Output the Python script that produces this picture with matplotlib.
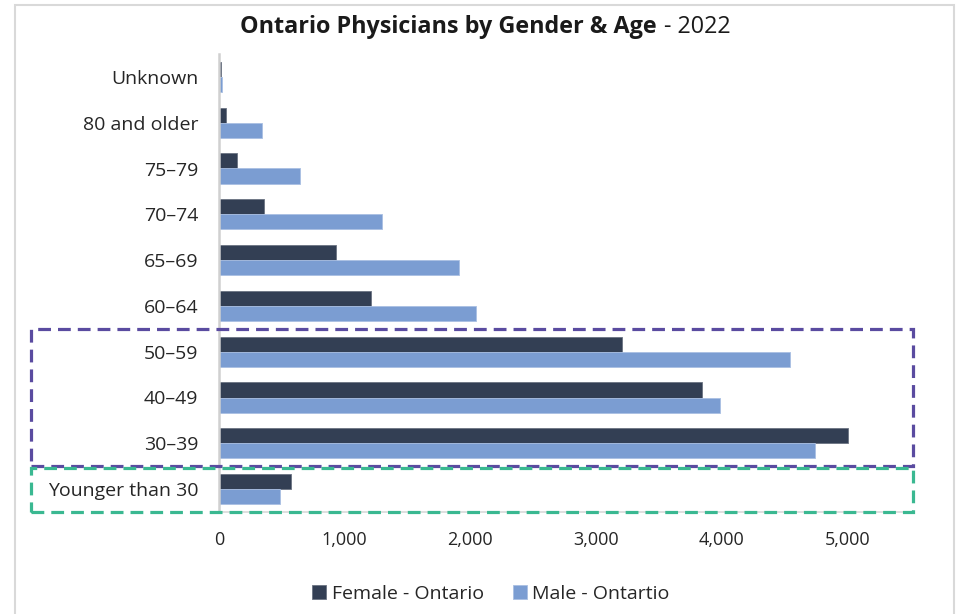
import matplotlib.pyplot as plt
import matplotlib.patches as mpatches
import matplotlib.transforms as mtransforms
from matplotlib.ticker import FuncFormatter

plt.rcParams['font.family'] = ['Open Sans', 'DejaVu Sans']

age_groups = ['Younger than 30', '30\u201339', '40\u201349', '50\u201359', '60\u201364',
              '65\u201369', '70\u201374', '75\u201379', '80 and older', 'Unknown']
female = [572, 5007, 3841, 3207, 1207, 930, 356, 141, 53, 15]
male = [487, 4747, 3989, 4546, 2049, 1911, 1297, 643, 345, 20]

female_color = '#333f54'
male_color = '#7b9dd2'
purple = '#5a4ba0'
green = '#3ab891'

W, H = 962, 614
fig = plt.figure(figsize=(W / 100, H / 100), dpi=100)

# outer chart frame
fig.patches.append(mpatches.Rectangle((15 / W, -0.05), 939 / W, 1 - 5 / H + 0.05,
                                      transform=fig.transFigure, fill=False,
                                      edgecolor='#d9d9d9', linewidth=1.5))

ax = fig.add_axes([219 / W, 1 - 512 / H, (910 - 219) / W, (512 - 54) / H])
ypos = list(range(len(age_groups)))
bh = 0.33
ax.barh([y + bh / 2 for y in ypos], female, height=bh, color=female_color,
        edgecolor='#6b7382', linewidth=0.6, label='Female - Ontario')
ax.barh([y - bh / 2 for y in ypos], male, height=bh, color=male_color,
        edgecolor='#a9bfe3', linewidth=0.6, label='Male - Ontartio')

ax.set_xlim(0, 5500)
ax.set_ylim(-0.5, len(age_groups) - 0.5)
ax.set_yticks(ypos)
ax.set_yticklabels(age_groups, fontsize=14, color='#262626')
ax.set_xticks([0, 1000, 2000, 3000, 4000, 5000])
ax.xaxis.set_major_formatter(FuncFormatter(lambda v, p: f'{int(v):,}'))
ax.tick_params(axis='x', labelsize=13, labelcolor='#262626', length=0, pad=14)
ax.tick_params(axis='y', length=0, pad=15)
for side in ['top', 'right']:
    ax.spines[side].set_visible(False)
ax.spines['left'].set_color('#d0d0d0')
ax.spines['left'].set_linewidth(1.8)
ax.spines['bottom'].set_color('#d9d9d9')
ax.spines['bottom'].set_linewidth(1.2)

# highlight boxes around age bands
tr = mtransforms.blended_transform_factory(fig.transFigure, ax.transData)
x0, x1 = 31 / W, 913 / W
ax.add_patch(mpatches.Rectangle((x0, 0.5), x1 - x0, 3.0, transform=tr, fill=False,
                                edgecolor=purple, linewidth=2.3, linestyle=(0, (4, 2.2)),
                                clip_on=False, zorder=5))
ax.add_patch(mpatches.Rectangle((x0, -0.5), x1 - x0, 0.96, transform=tr, fill=False,
                                edgecolor=green, linewidth=2.3, linestyle=(0, (4, 2.2)),
                                clip_on=False, zorder=5))

# title: bold name plus regular year
fig.text(657 / W, 1 - 27 / H, 'Ontario Physicians by Gender & Age', ha='right', va='center',
         fontsize=16.8, fontweight='bold', color='#1a1a1a')
fig.text(664 / W, 1 - 27 / H, '- 2022', ha='left', va='center',
         fontsize=16.8, color='#1a1a1a')

fig.legend(loc='center', bbox_to_anchor=(491 / W, 1 - 594 / H), ncol=2, frameon=False,
           fontsize=14, handlelength=0.7, handleheight=0.7, handletextpad=0.3,
           columnspacing=1.5, labelcolor='#262626')

fig.savefig('out.png', dpi=100)
